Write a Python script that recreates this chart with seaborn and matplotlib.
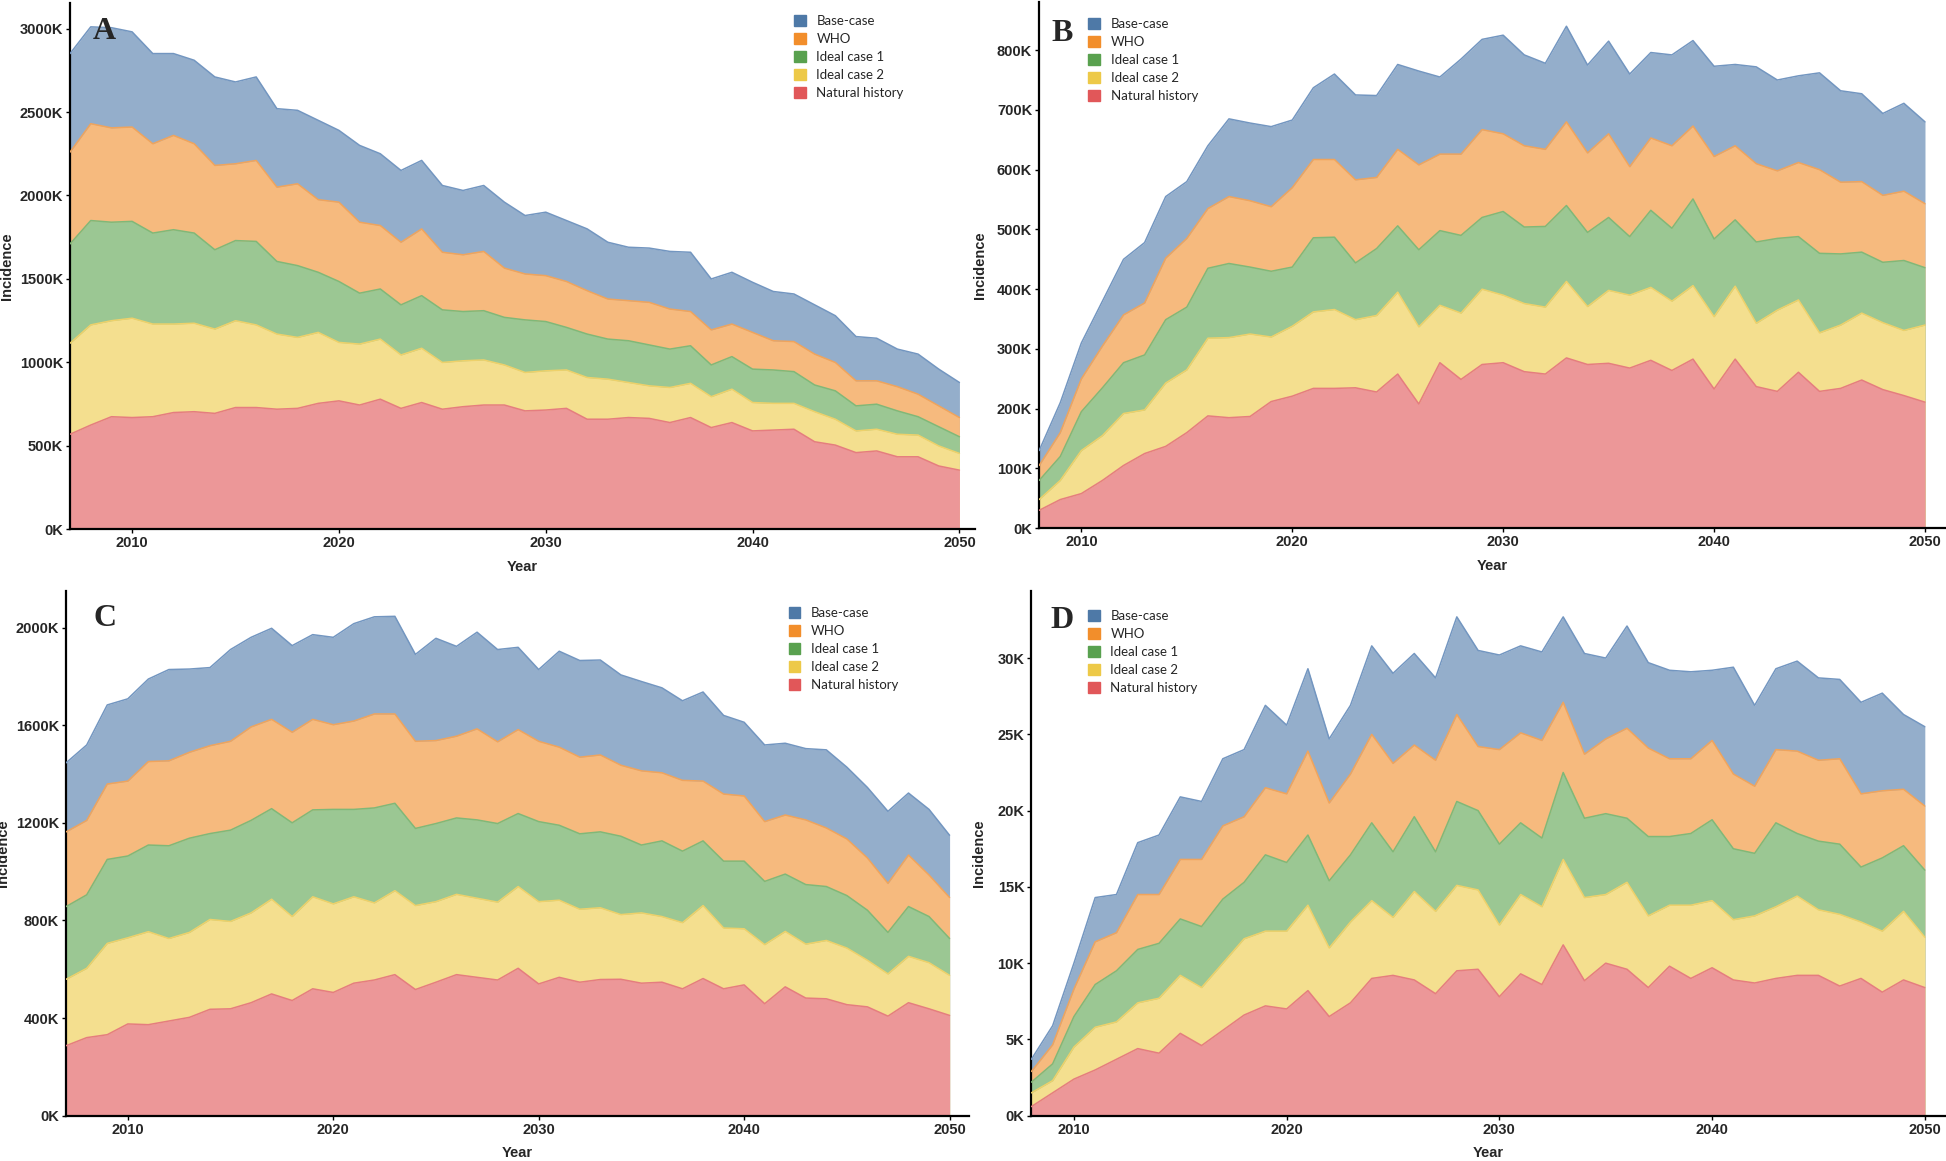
import matplotlib
matplotlib.use('Agg')
import matplotlib.pyplot as plt
import matplotlib.patches as mpatches
import seaborn as sns
import numpy as np

# scenario names (drawn back to front) and their colours
scenarios = ["Base-case", "WHO", "Ideal case 1", "Ideal case 2", "Natural history"]
colors = ["#4e79a7", "#f28e2b", "#59a14f", "#edc948", "#e15759"]      # legend
fills = ["#94aecb", "#f6ba7e", "#9bc793", "#f4df8f", "#ec9798"]       # areas
edges = ["#7396c0", "#f0a45c", "#80b878", "#eed16a", "#e57d7f"]       # outlines

years_ac = np.arange(2007, 2051)
years_bd = np.arange(2008, 2051)

# all values in thousands
# Panel A
base_a = [2850, 3010, 3005, 2980, 2850, 2850, 2810, 2710, 2680, 2710,
          2520, 2510, 2450, 2390, 2300, 2250, 2150, 2210, 2060, 2030,
          2060, 1960, 1880, 1900, 1850, 1800, 1720, 1690, 1685, 1665,
          1660, 1500, 1540, 1480, 1425, 1410, 1345, 1280, 1155, 1145,
          1080, 1050, 960, 880]
who_a = [2260, 2430, 2405, 2410, 2310, 2360, 2310, 2180, 2190, 2210,
         2050, 2070, 1975, 1960, 1840, 1820, 1720, 1800, 1660, 1645,
         1665, 1565, 1530, 1520, 1485, 1430, 1380, 1370, 1360, 1320,
         1305, 1195, 1230, 1180, 1130, 1125, 1050, 1000, 890, 890,
         855, 810, 740, 670]
ideal1_a = [1710, 1850, 1840, 1845, 1775, 1795, 1775, 1675, 1730, 1725,
            1605, 1580, 1540, 1485, 1415, 1440, 1345, 1400, 1315, 1305,
            1310, 1270, 1255, 1245, 1210, 1170, 1140, 1130, 1105, 1080,
            1100, 985, 1035, 960, 955, 945, 865, 830, 740, 750,
            710, 675, 615, 555]
ideal2_a = [1115, 1225, 1250, 1265, 1230, 1230, 1235, 1200, 1250, 1225,
            1170, 1150, 1180, 1120, 1110, 1140, 1045, 1085, 1000, 1010,
            1015, 985, 940, 950, 955, 910, 900, 880, 860, 850,
            875, 795, 840, 760, 755, 755, 705, 660, 590, 600,
            570, 565, 500, 455]
natural_a = [570, 625, 675, 670, 675, 700, 705, 695, 730, 730,
             720, 725, 755, 770, 745, 780, 725, 760, 720, 735,
             745, 745, 710, 715, 725, 660, 660, 670, 665, 640,
             670, 610, 640, 590, 595, 600, 525, 505, 460, 470,
             435, 435, 380, 355]

# Panel B
base_b = [130, 210, 310, 380, 450, 478, 555, 580, 640, 685,
          678, 672, 683, 737, 760, 725, 724, 776, 765, 755,
          785, 818, 825, 792, 778, 840, 775, 815, 760, 796,
          792, 816, 773, 776, 772, 750, 757, 762, 732, 727,
          694, 711, 680]
who_b = [105, 160, 250, 305, 357, 377, 452, 485, 535, 555,
         548, 538, 570, 617, 617, 583, 587, 634, 608, 626,
         626, 667, 660, 640, 634, 680, 628, 660, 605, 653,
         640, 673, 622, 640, 610, 598, 612, 600, 579, 580,
         557, 564, 543]
ideal1_b = [80, 120, 195, 235, 277, 290, 349, 370, 435, 443,
            437, 430, 437, 486, 487, 444, 468, 506, 466, 498,
            490, 520, 530, 504, 505, 540, 495, 520, 488, 532,
            502, 551, 484, 516, 479, 485, 488, 460, 459, 462,
            445, 448, 436]
ideal2_b = [48, 80, 130, 155, 192, 198, 243, 265, 318, 319,
            325, 320, 338, 362, 366, 349, 356, 395, 337, 373,
            360, 400, 390, 376, 370, 413, 371, 398, 390, 403,
            380, 406, 354, 405, 343, 365, 382, 327, 340, 360,
            344, 331, 340]
natural_b = [30, 48, 58, 80, 105, 125, 137, 160, 188, 185,
             187, 212, 221, 234, 234, 235, 228, 258, 208, 277,
             249, 274, 277, 262, 258, 285, 274, 276, 268, 281,
             264, 283, 233, 283, 237, 229, 261, 229, 234, 248,
             232, 222, 211]

# Panel C
base_c = [1446, 1519, 1683, 1708, 1789, 1828, 1830, 1836, 1910, 1960,
          1997, 1926, 1971, 1960, 2016, 2044, 2046, 1890, 1956, 1923,
          1981, 1910, 1919, 1828, 1903, 1865, 1867, 1806, 1779, 1753,
          1700, 1736, 1640, 1612, 1519, 1526, 1504, 1499, 1428, 1345,
          1247, 1322, 1255, 1149]
who_c = [1163, 1210, 1359, 1371, 1451, 1454, 1489, 1516, 1534, 1593,
         1624, 1571, 1624, 1602, 1617, 1646, 1646, 1534, 1537, 1555,
         1585, 1532, 1582, 1534, 1510, 1469, 1478, 1436, 1413, 1405,
         1374, 1371, 1318, 1310, 1205, 1232, 1212, 1179, 1134, 1056,
         952, 1068, 986, 894]
ideal1_c = [857, 905, 1050, 1064, 1109, 1106, 1137, 1156, 1170, 1210,
            1258, 1200, 1253, 1255, 1255, 1261, 1280, 1177, 1197, 1220,
            1212, 1197, 1238, 1205, 1190, 1155, 1163, 1145, 1109, 1126,
            1084, 1126, 1043, 1043, 960, 990, 947, 939, 902, 842,
            751, 857, 816, 726]
ideal2_c = [559, 604, 706, 729, 754, 726, 751, 804, 796, 831,
            887, 816, 897, 868, 897, 872, 922, 861, 877, 907,
            891, 875, 939, 877, 883, 846, 852, 824, 831, 816,
            791, 861, 769, 766, 701, 755, 703, 718, 687, 637,
            581, 653, 627, 575]
natural_c = [287, 320, 332, 376, 373, 388, 403, 436, 438, 463,
             499, 472, 520, 505, 543, 556, 578, 517, 547, 578,
             567, 556, 604, 540, 567, 547, 558, 559, 543, 547,
             520, 562, 520, 536, 459, 528, 482, 479, 455, 446,
             408, 463, 438, 411]

# Panel D
base_d = [3.7, 5.9, 10.0, 14.3, 14.5, 17.9, 18.4, 20.9, 20.6, 23.4,
          24.0, 26.9, 25.6, 29.3, 24.7, 26.9, 30.8, 29.0, 30.3, 28.7,
          32.7, 30.5, 30.2, 30.8, 30.4, 32.7, 30.3, 30.0, 32.1, 29.7,
          29.2, 29.1, 29.2, 29.4, 26.9, 29.3, 29.8, 28.7, 28.6, 27.1,
          27.7, 26.3, 25.5]
who_d = [2.9, 4.65, 8.3, 11.4, 12.0, 14.5, 14.5, 16.8, 16.8, 19.0,
         19.6, 21.5, 21.1, 23.9, 20.5, 22.4, 25.0, 23.1, 24.3, 23.3,
         26.3, 24.2, 24.0, 25.1, 24.6, 27.1, 23.7, 24.7, 25.4, 24.1,
         23.4, 23.4, 24.6, 22.4, 21.6, 24.0, 23.9, 23.3, 23.4, 21.1,
         21.3, 21.4, 20.3]
ideal1_d = [2.2, 3.4, 6.5, 8.6, 9.5, 10.9, 11.3, 12.9, 12.4, 14.2,
            15.3, 17.1, 16.6, 18.4, 15.4, 17.1, 19.2, 17.3, 19.6, 17.3,
            20.6, 20.0, 17.8, 19.2, 18.2, 22.5, 19.5, 19.8, 19.5, 18.3,
            18.3, 18.5, 19.4, 17.5, 17.2, 19.2, 18.5, 18.0, 17.8, 16.3,
            16.9, 17.7, 16.1]
ideal2_d = [1.5, 2.3, 4.5, 5.8, 6.15, 7.4, 7.7, 9.2, 8.4, 10.0,
            11.6, 12.1, 12.1, 13.8, 11.0, 12.7, 14.1, 13.0, 14.7, 13.4,
            15.1, 14.8, 12.5, 14.5, 13.7, 16.8, 14.3, 14.5, 15.3, 13.1,
            13.8, 13.8, 14.1, 12.85, 13.1, 13.7, 14.4, 13.5, 13.2, 12.7,
            12.1, 13.4, 11.7]
natural_d = [0.6, 1.5, 2.4, 3.0, 3.7, 4.4, 4.1, 5.4, 4.6, 5.6,
             6.6, 7.2, 7.0, 8.2, 6.5, 7.4, 9.0, 9.2, 8.9, 8.0,
             9.5, 9.6, 7.8, 9.3, 8.6, 11.2, 8.85, 10.0, 9.6, 8.4,
             9.8, 9.0, 9.7, 8.9, 8.7, 9.0, 9.2, 9.2, 8.5, 9.0,
             8.1, 8.9, 8.4]

sns.set_style("white")
plt.rcParams['font.family'] = ['Liberation Sans', 'DejaVu Sans']

fig = plt.figure(figsize=(19.46, 11.61), dpi=100)


def draw_panel(rect, years, series, ymax, ystep, xmax, letter, letter_xy, leg_xy, ylab_x):
    ax = fig.add_axes(rect)
    for vals, fc, ec in zip(series, fills, edges):
        ax.fill_between(years, 0, vals, color=fc, linewidth=0, zorder=2)
        sns.lineplot(x=years, y=vals, ax=ax, color=ec, linewidth=1.1, zorder=3)
    ax.set_xlim(years[0], xmax)
    ax.set_ylim(0, ymax)
    yt = np.arange(0, ymax, ystep)
    ax.set_yticks(yt)
    ax.set_yticklabels([f"{v:.0f}K" for v in yt])
    ax.set_xticks([2010, 2020, 2030, 2040, 2050])
    for lab in ax.get_xticklabels() + ax.get_yticklabels():
        lab.set_fontweight('bold')
        lab.set_fontsize(10.5)
    ax.tick_params(axis='both', direction='out', length=3, width=1, pad=2,
                   bottom=True, left=True, color='black')
    for s in ['top', 'right']:
        ax.spines[s].set_visible(False)
    for s in ['left', 'bottom']:
        ax.spines[s].set_color('black')
        ax.spines[s].set_linewidth(1.6)
    ax.set_xlabel("Year", fontsize=10.5, fontweight='bold', labelpad=7)
    ax.set_ylabel("Incidence", fontsize=10.5, fontweight='bold')
    ax.yaxis.set_label_coords(ylab_x, 0.5)
    ax.text(letter_xy[0], letter_xy[1], letter, transform=ax.transAxes,
            fontsize=23, fontweight='bold', family='Liberation Serif',
            va='top', ha='left', zorder=5)
    handles = [mpatches.Patch(facecolor=c, edgecolor=c, label=n)
               for n, c in zip(scenarios, colors)]
    ax.legend(handles=handles, loc='upper left', bbox_to_anchor=leg_xy,
              frameon=False, prop={'family': 'Lato', 'size': 9.5},
              handlelength=0.9, handleheight=0.9, handletextpad=0.8,
              labelspacing=0.45, borderpad=0, borderaxespad=0)
    return ax


draw_panel([0.036, 0.544, 0.465, 0.453], years_ac,
           [base_a, who_a, ideal1_a, ideal2_a, natural_a],
           3150, 500, 2050.75, "A", (0.025, 0.975), (0.80, 0.978), -0.062)
draw_panel([0.534, 0.545, 0.4655, 0.453], years_bd,
           [base_b, who_b, ideal1_b, ideal2_b, natural_b],
           880, 100, 2050.95, "B", (0.014, 0.968), (0.054, 0.970), -0.058)
draw_panel([0.034, 0.039, 0.464, 0.452], years_ac,
           [base_c, who_c, ideal1_c, ideal2_c, natural_c],
           2150, 400, 2050.95, "C", (0.03, 0.975), (0.80, 0.970), -0.062)
draw_panel([0.530, 0.039, 0.4695, 0.452], years_bd,
           [base_d, who_d, ideal1_d, ideal2_d, natural_d],
           34.4, 5, 2050.95, "D", (0.021, 0.972), (0.062, 0.963), -0.05)

fig.savefig("out.png", dpi=100)
